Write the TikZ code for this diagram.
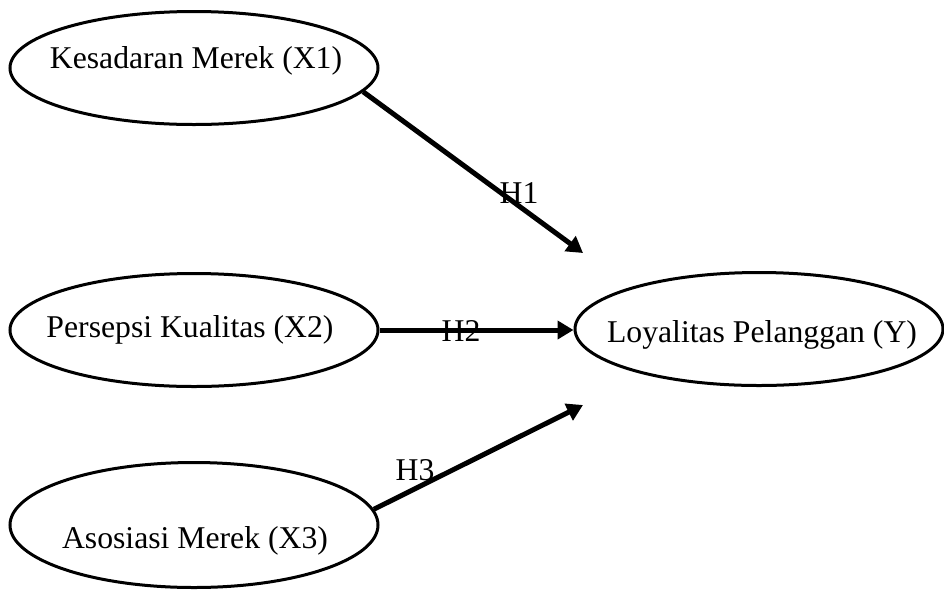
\documentclass[tikz,border=0pt]{standalone}
\usepackage{fontspec}
\setmainfont{Liberation Serif}
\usetikzlibrary{shapes.geometric,arrows.meta}
\begin{document}
\begin{tikzpicture}[x=1pt,y=-1pt,
  var/.style={ellipse,draw,line width=3pt,minimum width=368pt,minimum height=113pt,inner sep=0pt},
  lbl/.style={anchor=base,inner sep=0pt,font=\fontsize{31.7}{38}\selectfont},
  conn/.style={line width=5pt,-{Triangle[length=16pt,width=18pt]}}]
\useasboundingbox (0,0) rectangle (944,590);
\node[var] (x1) at (194,68) {};
\node[var] (x2) at (194,330) {};
\node[var,minimum height=125pt] (x3) at (194,525) {};
\node[var] (y) at (759,329) {};
\node[lbl] (t1) at (196,68) {Kesadaran Merek (X1)};
\node[lbl] (t2) at (190,337) {Persepsi Kualitas (X2)};
\node[lbl] (t3) at (195,548) {Asosiasi Merek (X3)};
\node[lbl] (ty) at (762,342) {Loyalitas Pelanggan (Y)};
\coordinate (e1) at (583,253);
\coordinate (e3) at (583,405);
\draw[conn] (x1.-8.5) -- (e1);
\draw[conn] (x2.east) -- (y.west |- x2.east);
\draw[conn] (x3.5.3) -- (e3);
\node[lbl] (h1) at (519,203) {H1};
\node[lbl] (h2) at (461,341) {H2};
\node[lbl] (h3) at (415,480) {H3};
\end{tikzpicture}
\end{document}
